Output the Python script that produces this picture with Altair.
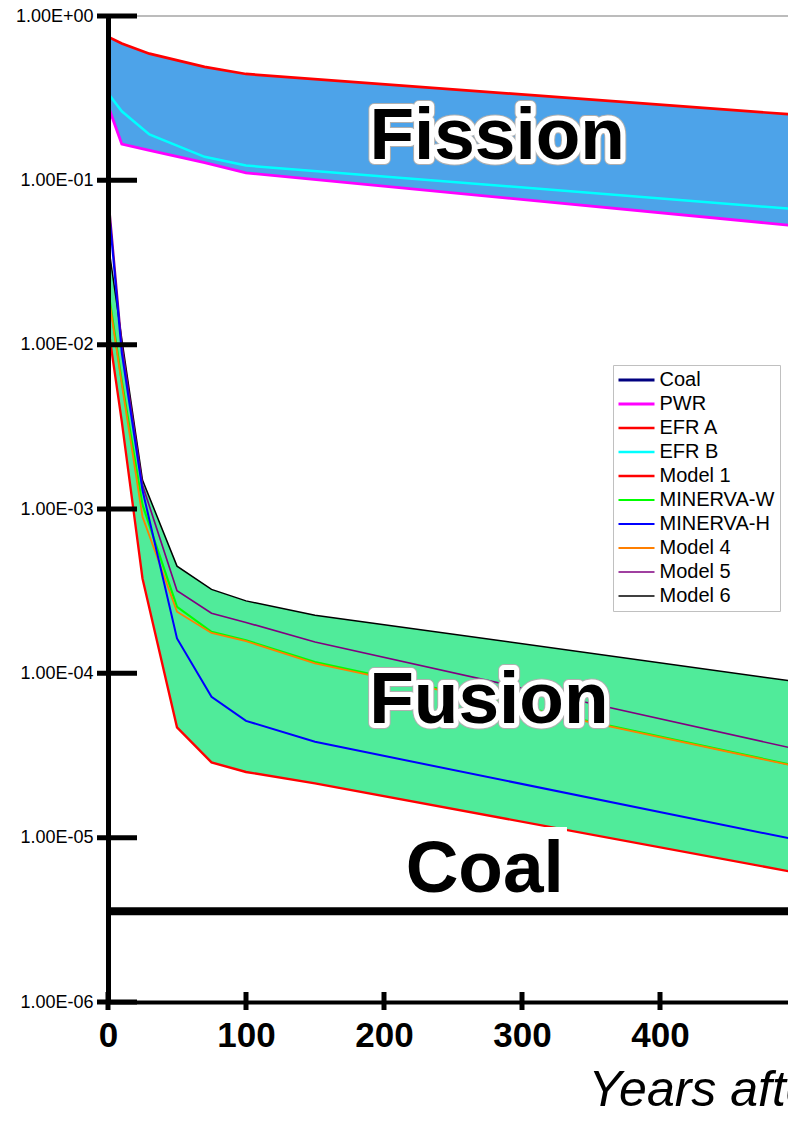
import altair as alt
import pandas as pd

FONT = "Liberation Sans"

# ---- data ----
fission_t = [0, 1, 10, 30, 70, 100, 500]
pwr = [0.28, 0.27, 0.166, 0.152, 0.128, 0.111, 0.0527]
efr_a = [0.88, 0.74, 0.68, 0.59, 0.49, 0.444, 0.25]
efr_b = [0.45, 0.33, 0.263, 0.19, 0.139, 0.123, 0.0666]

fusion_t = [0, 10, 25, 50, 75, 100, 150, 500]
model1 = [1.3e-2, 3.4e-3, 3.78e-4, 4.69e-5, 2.87e-5, 2.51e-5, 2.14e-5, 6.1e-6]
minerva_w = [2.2e-2, 6.0e-3, 1.06e-3, 2.54e-4, 1.79e-4, 1.59e-4, 1.17e-4, 2.72e-5]
minerva_h = [7.6e-2, 8.9e-3, 1.30e-3, 1.63e-4, 7.19e-5, 5.14e-5, 3.83e-5, 9.66e-6]
model4 = [2.1e-2, 5.75e-3, 8.97e-4, 2.37e-4, 1.76e-4, 1.57e-4, 1.15e-4, 2.70e-5]
model5 = [8.7e-2, 1.0e-2, 1.40e-3, 3.18e-4, 2.32e-4, 2.04e-4, 1.55e-4, 3.44e-5]
model6 = [4.2e-2, 1.08e-2, 1.50e-3, 4.49e-4, 3.24e-4, 2.76e-4, 2.26e-4, 8.87e-5]

coal_t = [0, 500]
coal_v = [3.57e-6, 3.57e-6]

series_names = ["Coal", "PWR", "EFR A", "EFR B", "Model 1", "MINERVA-W",
                "MINERVA-H", "Model 4", "Model 5", "Model 6"]
series_colors = ["#000080", "#ff00ff", "#ff0000", "#00ffff", "#ff0000",
                 "#00ff00", "#0000ff", "#ff7f00", "#800080", "#000000"]
series_widths = [3, 1.5, 1.5, 1.5, 3, 3, 3, 1.5, 1.5, 1.5]

decades = [1e-6, 1e-5, 1e-4, 1e-3, 1e-2, 1e-1, 1.0]
x_ticks = [0, 100, 200, 300, 400]

# annotations
ann_band = pd.DataFrame({"t": [282, 276], "v": [0.1348, 4.98e-5], "label": ["Fission", "Fusion"]})
ann_coal = pd.DataFrame({"t": [273], "v": [4.66e-6], "label": ["Coal"]})
coal_box = pd.DataFrame({"t1": [211.6], "t2": [332.6], "v1": [1.16e-5], "v2": [3.88e-6]})

# ---- tables ----
rows = []
def add(name, ts, vs):
    for t, v in zip(ts, vs):
        rows.append({"series": name, "t": t, "v": v})
add("PWR", fission_t, pwr)
add("EFR A", fission_t, efr_a)
add("EFR B", fission_t, efr_b)
add("Model 1", fusion_t, model1)
add("MINERVA-W", fusion_t, minerva_w)
add("MINERVA-H", fusion_t, minerva_h)
add("Model 4", fusion_t, model4)
add("Model 5", fusion_t, model5)
add("Model 6", fusion_t, model6)
lines = pd.DataFrame(rows)
coal_df = pd.DataFrame({"t": coal_t, "v": coal_v})
fis_band = pd.DataFrame({"t": fission_t, "hi": efr_a, "lo": pwr})
fus_band = pd.DataFrame({"t": fusion_t, "hi": model6, "lo": model1})

xscale = alt.Scale(domain=[0, 492.75], nice=False, zero=False)
yscale = alt.Scale(type="log", domain=[1e-6, 1], nice=False)

xaxis = alt.Axis(values=x_ticks, ticks=False, format="d", labelFont=FONT, labelFontSize=35,
                 labelFontWeight="bold", labelColor="black", labelPadding=16,
                 labelFlush=False, labelOverlap=False, domainColor="black", domainWidth=4,
                 grid=False, title="Years after shutdown", titleFont=FONT, titleFontSize=50,
                 titleFontStyle="italic", titleFontWeight="normal", titleColor="black",
                 titleX=480, titleY=103, titleAlign="left", titleBaseline="alphabetic",
                 titleAnchor="start", zindex=1)
yaxis = alt.Axis(values=decades, ticks=False,
                 labelExpr="'1.00E' + (log(datum.value) / LN10 > -0.5 ? '+' : '-') + '0' + format(abs(round(log(datum.value) / LN10)), 'd')",
                 labelFont=FONT, labelFontSize=18, labelColor="black", labelPadding=15,
                 labelFlush=False, labelOverlap=False, domainColor="black", domainWidth=5,
                 grid=False, title=None, zindex=1)

def X(field):
    return alt.X(field, type="quantitative", scale=xscale, axis=xaxis)

def Y(field):
    return alt.Y(field, type="quantitative", scale=yscale, axis=yaxis)

legend = alt.Legend(orient="none", legendX=505, legendY=349, title=None,
                    symbolType="M-3.6,0H3.6", symbolSize=100, labelFont=FONT, labelFontSize=20,
                    labelColor="black", padding=5, strokeColor="#c0c0c0", fillColor="white",
                    rowPadding=4, labelOffset=13, symbolOffset=8.5)
color_enc = alt.Color("series:N", scale=alt.Scale(domain=series_names, range=series_colors), legend=legend)
width_enc = alt.StrokeWidth("series:N", scale=alt.Scale(domain=series_names, range=series_widths), legend=legend)

layers = []
layers.append(alt.Chart(fis_band).mark_area(color="#4da3e9", clip=True).encode(x=X("t"), y=Y("hi"), y2="lo:Q"))
layers.append(alt.Chart(fus_band).mark_area(color="#50eb9a", clip=True).encode(x=X("t"), y=Y("hi"), y2="lo:Q"))
layers.append(alt.Chart(pd.DataFrame({"v": [1.0]})).mark_rule(color="#a6a6a6", strokeWidth=1.5).encode(y=Y("v")))

draw_order = ["PWR", "EFR B", "EFR A", "Model 6", "Model 5", "MINERVA-W", "Model 4", "MINERVA-H", "Model 1"]
for name in draw_order:
    layers.append(
        alt.Chart(lines[lines.series == name]).mark_line(clip=True).encode(
            x=X("t"), y=Y("v"), color=color_enc, strokeWidth=width_enc, order="t:Q"
        )
    )

layers.append(alt.Chart(coal_df).mark_line(color="black", strokeWidth=8, clip=True).encode(x=X("t"), y=Y("v")))
layers.append(alt.Chart(coal_box).mark_rect(color="white").encode(x=X("t1"), x2="t2:Q", y=Y("v1"), y2="v2:Q"))

layers.append(alt.Chart(ann_band).mark_text(font=FONT, fontSize=73, fontWeight="bold", fill="#d8d8d8",
                                            stroke="#b0b0b0", strokeWidth=12, strokeJoin="round",
                                            align="center", baseline="alphabetic").encode(x=X("t"), y=Y("v"), text="label:N"))
layers.append(alt.Chart(ann_band).mark_text(font=FONT, fontSize=73, fontWeight="bold", fill="white",
                                            stroke="white", strokeWidth=10, strokeJoin="round",
                                            align="center", baseline="alphabetic").encode(x=X("t"), y=Y("v"), text="label:N"))
layers.append(alt.Chart(ann_band).mark_text(font=FONT, fontSize=73, fontWeight="bold", fill="black",
                                            align="center", baseline="alphabetic").encode(x=X("t"), y=Y("v"), text="label:N"))
layers.append(alt.Chart(ann_coal).mark_text(font=FONT, fontSize=73, fontWeight="bold", fill="black",
                                            align="center", baseline="alphabetic").encode(x=X("t"), y=Y("v"), text="label:N"))

# thick axis ticks
layers.append(alt.Chart(pd.DataFrame({"v": decades})).mark_rule(color="black", strokeWidth=5).encode(
    y=Y("v"), x=alt.value(-11), x2=alt.value(29)))
layers.append(alt.Chart(pd.DataFrame({"t": x_ticks})).mark_rule(color="black", strokeWidth=5).encode(
    x=X("t"), y=alt.value(976), y2=alt.value(994)))

chart = alt.layer(*layers).properties(
    width=680, height=986,
    autosize=alt.AutoSizeParams(type="none"),
    padding={"left": 100, "top": 8, "right": 0, "bottom": 104},
).configure_view(stroke=None)

chart.save("out.html", embed_options={"renderer": "svg", "actions": False})
